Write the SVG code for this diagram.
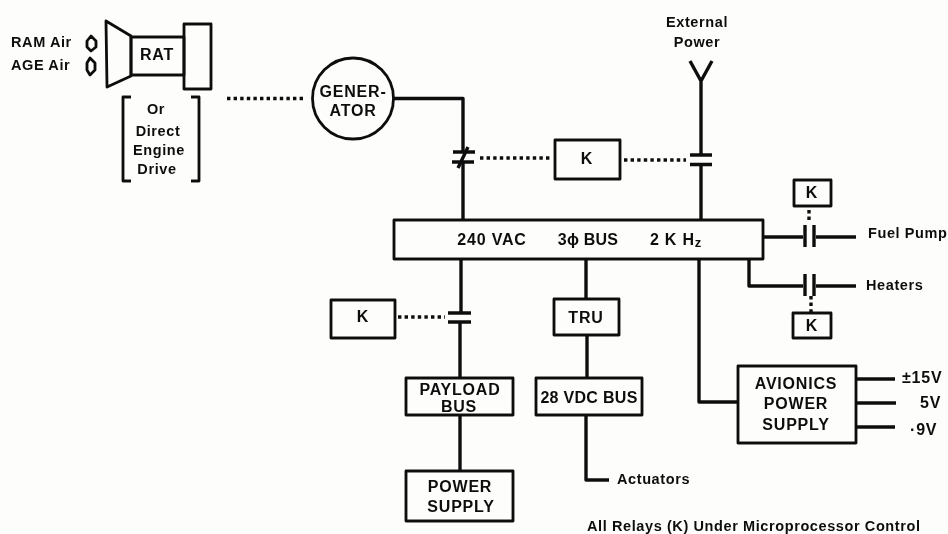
<svg xmlns="http://www.w3.org/2000/svg" width="948" height="534" viewBox="0 0 948 534">
<style>
.b{fill:none;stroke:#111;stroke-width:2.8;stroke-linejoin:round}
.w{fill:none;stroke:#111;stroke-width:3.4;stroke-linejoin:round}
.d{fill:none;stroke:#111;stroke-width:3.4;stroke-dasharray:3.4 3.2}
text{font-family:"Liberation Sans",Arial,sans-serif;font-size:16px;letter-spacing:0.8px;font-weight:700;fill:#111;text-anchor:middle}
.s{font-size:14.500px;letter-spacing:0.6px}
.l{text-anchor:start}
</style>
<rect width="948" height="534" fill="#fdfdfb"/>
<defs><filter id="soft" x="0" y="0" width="100%" height="100%"><feGaussianBlur stdDeviation="0.5"/></filter></defs>
<g filter="url(#soft)">
<g id="connectors">
<path class="d" d="M227 98.500H304"/>
<path class="w" d="M394 98.500H463V152M463 162V220"/>
<path class="w" d="M453 152H475M452 162H474M458 168L468 147"/>
<path class="d" d="M480 158H550M624 160H686"/>
<path class="w" d="M690 61L701 81L712 61M701 81V154M701 165V220"/>
<path class="w" d="M690 155H712M690 164.500H712"/>
<path class="w" d="M763 237H803M816 237H856M805 225V247M814 225V247"/>
<path class="d" d="M809 210V223"/>
<path class="w" d="M749 259V286H803M816 286H856M805 274V296M814 274V296"/>
<path class="d" d="M811 296V313"/>
<path class="w" d="M699 259V402H738"/>
<path class="w" d="M857 379H895M857 403H896M857 427H895"/>
<path class="w" d="M461 259V312M460 323V378M460 415V471"/>
<path class="w" d="M448 313H471M448 322H471"/>
<path class="d" d="M398 317H445"/>
<path class="w" d="M586 259V299M587 335V378M586 415V480H609"/>
</g>
<g id="rat">
<path class="b" d="M106 21L131 36V76L107 87Z"/>
<rect class="b" x="131" y="37" width="53" height="38"/>
<rect class="b" x="184" y="24" width="27" height="65"/>
<text x="157" y="60">RAT</text>
</g>
<g id="ram-air">
<text class="l s" x="11" y="47">RAM Air</text>
<text class="l s" x="11" y="70">AGE Air</text>
<path class="b" d="M91 36L96 41V47L91 51L87 47V41Z"/>
<path class="b" d="M90 58L95 63V70L90 75L87 70V63Z"/>
</g>
<g id="direct-drive">
<path class="b" d="M131 97H123V181H131M191 97H199V181H191"/>
<text class="s" x="156" y="114">Or</text>
<text class="s" x="158" y="136">Direct</text>
<text class="s" x="159" y="155">Engine</text>
<text class="s" x="157" y="174">Drive</text>
</g>
<g id="generator">
<circle class="b" cx="353" cy="98.500" r="40.500"/>
<text x="353" y="97">GENER-</text>
<text x="353" y="116">ATOR</text>
</g>
<g id="k-main">
<rect class="b" x="555" y="140" width="65" height="39"/>
<text x="587" y="164">K</text>
</g>
<g id="external-power">
<text class="s" x="697" y="27">External</text>
<text class="s" x="697" y="47">Power</text>
</g>
<g id="bus">
<rect class="b" x="394" y="220" width="369" height="39"/>
<text x="492" y="245">240 VAC</text>
<text x="588" y="245" style="letter-spacing:0.2px">3ϕ BUS</text>
<text x="676" y="245">2 K H<tspan dy="2" font-size="13">z</tspan></text>
</g>
<g id="k-fuel">
<rect class="b" x="794" y="180" width="37" height="26"/>
<text x="812" y="198">K</text>
</g>
<text id="fuel-pump" class="l s" x="868" y="238">Fuel Pump</text>
<text id="heaters" class="l s" x="866" y="290">Heaters</text>
<g id="k-heaters">
<rect class="b" x="793" y="313" width="38" height="25"/>
<text x="812" y="331">K</text>
</g>
<g id="k-payload">
<rect class="b" x="331" y="300" width="64" height="38"/>
<text x="363" y="322">K</text>
</g>
<g id="tru">
<rect class="b" x="554" y="299" width="65" height="36"/>
<text x="586" y="323">TRU</text>
</g>
<g id="payload-bus">
<rect class="b" x="406" y="378" width="107" height="37"/>
<text x="460" y="395">PAYLOAD</text>
<text x="459" y="412">BUS</text>
</g>
<g id="vdc-bus">
<rect class="b" x="536" y="378" width="106" height="37"/>
<text x="589" y="403" style="letter-spacing:0.3px">28 VDC BUS</text>
</g>
<g id="power-supply">
<rect class="b" x="406" y="471" width="107" height="50"/>
<text x="460" y="492">POWER</text>
<text x="461" y="512">SUPPLY</text>
</g>
<g id="avionics">
<rect class="b" x="738" y="366" width="118" height="77"/>
<text x="796" y="389">AVIONICS</text>
<text x="796" y="409">POWER</text>
<text x="796" y="430">SUPPLY</text>
</g>
<text id="v15" class="l" x="902" y="383">±15V</text>
<text id="v5" class="l" x="920" y="408">5V</text>
<text id="v9" class="l" x="910" y="435">·9V</text>
<text id="actuators" class="l s" x="617" y="484">Actuators</text>
<text id="note" class="l s" x="587" y="531">All Relays (K) Under Microprocessor Control</text>
</g>
</svg>
